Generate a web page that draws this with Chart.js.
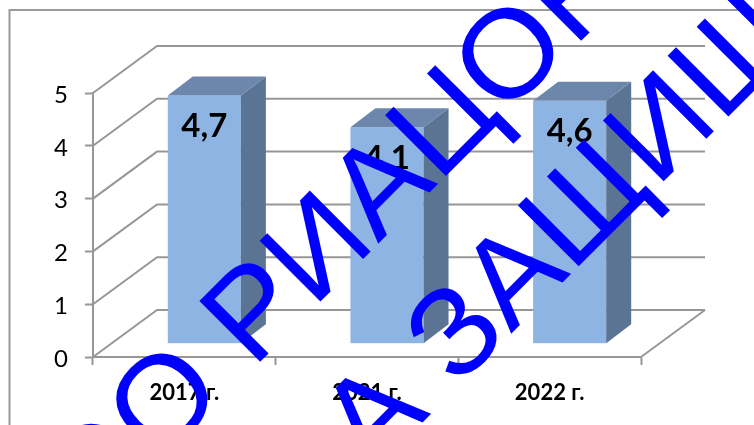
<!DOCTYPE html>
<html>
<head>
<meta charset="utf-8">
<style>
  html, body { margin: 0; padding: 0; background: #fff; }
  #wrap { position: relative; width: 754px; height: 425px; overflow: hidden; }
</style>
<script src="https://cdn.jsdelivr.net/npm/chart.js@4"></script>
</head>
<body>
<div id="wrap"><canvas id="chart" width="754" height="425"></canvas></div>
<script>
var categories = ['2017 г.', '2021 г.', '2022 г.'];
var values = [4.7, 4.1, 4.6];
var yTicks = [0, 1, 2, 3, 4, 5];
var watermarkLines = ['ОО РИАЦОН', 'А ЗАЩИЩ'];

var gray = '#979797';
var depth = { x: 64, y: -47 };     // back wall
var barShift = { x: 20, y: -13.3 }; // bars stand a bit into the floor
var barDepth = { x: 25, y: -19 };

function poly(ctx, pts, color) {
  ctx.fillStyle = color;
  ctx.beginPath();
  ctx.moveTo(pts[0][0], pts[0][1]);
  for (var i = 1; i < pts.length; i++) ctx.lineTo(pts[i][0], pts[i][1]);
  ctx.closePath();
  ctx.fill();
}

var walls = {
  id: 'walls',
  beforeDatasetsDraw: function (chart) {
    var ctx = chart.ctx, a = chart.chartArea, y = chart.scales.y;
    ctx.save();
    // outer frame
    ctx.strokeStyle = '#9a9a9a';
    ctx.lineWidth = 2;
    ctx.beginPath();
    ctx.moveTo(9.5, 425);
    ctx.lineTo(9.5, 10);
    ctx.lineTo(754, 10);
    ctx.stroke();
    ctx.strokeStyle = gray;
    yTicks.forEach(function (t) {
      var py = y.getPixelForValue(t);
      ctx.beginPath();
      ctx.moveTo(a.left, py);
      ctx.lineTo(a.left + depth.x, py + depth.y);
      ctx.lineTo(a.right + depth.x, py + depth.y);
      ctx.stroke();
    });
    ctx.beginPath();
    ctx.moveTo(a.right, a.bottom);
    ctx.lineTo(a.right + depth.x, a.bottom + depth.y);
    ctx.stroke();
    ctx.restore();
    // everything that belongs to the bars is moved onto the floor
    ctx.save();
    ctx.translate(barShift.x, barShift.y);
  },
  afterDatasetsDraw: function (chart) {
    var ctx = chart.ctx;
    chart.getDatasetMeta(0).data.forEach(function (bar, i) {
      var l = bar.x - bar.width / 2, r = bar.x + bar.width / 2;
      poly(ctx, [[r, bar.y], [r + barDepth.x, bar.y + barDepth.y], [r + barDepth.x, bar.base + barDepth.y], [r, bar.base]], '#5b7493');
      poly(ctx, [[l, bar.y], [l + barDepth.x, bar.y + barDepth.y], [r + barDepth.x, bar.y + barDepth.y], [r, bar.y]], '#6c87ab');
      ctx.fillStyle = '#000';
      ctx.font = 'bold 33px Lato';
      ctx.textAlign = 'center';
      ctx.textBaseline = 'middle';
      ctx.fillText(String(values[i]).replace('.', ','), bar.x, bar.y + 31);
    });
    ctx.restore();
  }
};

// diagonal text over the whole picture
var watermark = {
  id: 'watermark',
  afterDraw: function (chart) {
    var ctx = chart.ctx;
    var origins = [[87, 535], [371, 474]];
    ctx.save();
    ctx.fillStyle = '#0000ff';
    ctx.font = '125px "Liberation Sans"';
    ctx.textBaseline = 'alphabetic';
    ctx.textAlign = 'left';
    watermarkLines.forEach(function (txt, i) {
      ctx.save();
      ctx.translate(origins[i][0], origins[i][1]);
      ctx.rotate(-Math.PI / 4);
      ctx.scale(1.023, 1);
      ctx.fillText(txt, 0, 0);
      ctx.restore();
    });
    ctx.restore();
  }
};

new Chart(document.getElementById('chart'), {
  type: 'bar',
  data: {
    labels: categories,
    datasets: [{
      data: values,
      backgroundColor: '#8db4e2',
      barPercentage: 0.4,
      categoryPercentage: 1
    }]
  },
  options: {
    responsive: false,
    animation: false,
    layout: { padding: { top: 93, right: 113, left: 0, bottom: 0 } },
    plugins: { legend: { display: false }, tooltip: { enabled: false } },
    scales: {
      x: {
        grid: { drawOnChartArea: false, tickLength: 8, tickColor: gray, tickWidth: 2 },
        border: { color: gray, width: 2 },
        ticks: { color: '#000', font: { family: 'Lato', size: 22, weight: 'bold' }, padding: 15, maxRotation: 0 },
        afterFit: function (s) { s.height = 68; }
      },
      y: {
        min: 0,
        max: 5,
        afterBuildTicks: function (s) { s.ticks = yTicks.map(function (v) { return { value: v }; }); },
        grid: { drawOnChartArea: false, tickLength: 8, tickColor: gray, tickWidth: 2 },
        border: { color: gray, width: 2 },
        ticks: { color: '#000', font: { family: 'Lato', size: 24 }, padding: 17, labelOffset: 2 },
        afterFit: function (s) { s.width = 93; }
      }
    }
  },
  plugins: [walls, watermark]
});
</script>
</body>
</html>
